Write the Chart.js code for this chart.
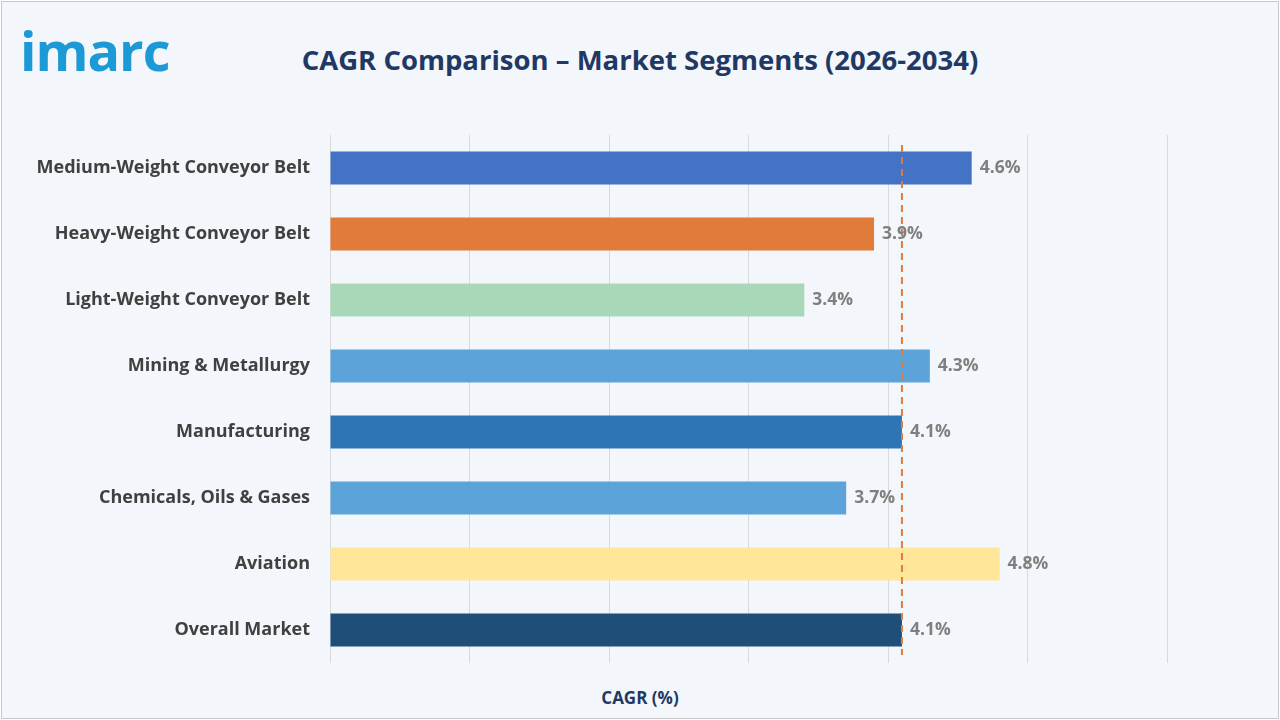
<!DOCTYPE html>
<html><head><meta charset="utf-8">
<script src="https://cdn.jsdelivr.net/npm/chart.js@4"></script>
<style>
html,body{margin:0;padding:0;background:#fff;}
#wrap{position:absolute;left:1px;top:1px;width:1276px;height:716px;border:1px solid #c8c8c8;background:#f3f6fa;}
#logo{position:absolute;left:20px;top:20px;font-family:"Open Sans",sans-serif;font-weight:700;font-size:54px;color:#1c9ad6;letter-spacing:-1px;line-height:60px;}
#title{position:absolute;left:0;width:1280px;top:41px;text-align:center;font-family:"Open Sans",sans-serif;font-weight:700;font-size:27.5px;color:#1f3864;}
#xt{position:absolute;left:0;width:1280px;top:686px;text-align:center;font-family:"Open Sans",sans-serif;font-weight:700;font-size:17px;color:#1f3864;}
canvas{position:absolute;left:0;top:0;}
</style></head><body>
<div id="wrap"></div>
<div id="logo">imarc</div>
<div id="title">CAGR Comparison – Market Segments (2026-2034)</div>
<div id="xt">CAGR (%)</div>
<canvas id="c" width="1280" height="720"></canvas>
<script>
const categories=["Medium-Weight Conveyor Belt","Heavy-Weight Conveyor Belt","Light-Weight Conveyor Belt","Mining & Metallurgy","Manufacturing","Chemicals, Oils & Gases","Aviation","Overall Market"];
const values=[4.6,3.9,3.4,4.3,4.1,3.7,4.8,4.1];
const colors=["#4472C4","#E07B39","#A9D8B8","#5BA3D9","#2E75B6","#5BA3D9","#FFE699","#1F4E79"];
const refValue=4.1;
const labelsPlugin={id:'lbl',afterDatasetsDraw(ch){
 const ctx=ch.ctx,meta=ch.getDatasetMeta(0),x=ch.scales.x,a=ch.chartArea;
 ctx.save();
 ctx.strokeStyle="#E07B39";ctx.lineWidth=2;ctx.setLineDash([7,5]);
 const px=x.getPixelForValue(refValue);
 ctx.beginPath();ctx.moveTo(px,a.top+10);ctx.lineTo(px,a.bottom-8);ctx.stroke();
 ctx.setLineDash([]);
 ctx.font="bold 17.5px 'Open Sans',sans-serif";ctx.fillStyle="#7f7f7f";ctx.textBaseline="middle";
 meta.data.forEach((b,i)=>ctx.fillText(values[i].toFixed(1)+"%",b.x+8,b.y));
 ctx.restore();}};
new Chart(document.getElementById('c'),{type:'bar',
 data:{labels:categories,datasets:[{data:values,backgroundColor:colors,barPercentage:0.5,categoryPercentage:1}]},
 options:{indexAxis:'y',responsive:false,animation:false,
  layout:{padding:{left:20,right:113,top:135,bottom:57}},
  plugins:{legend:{display:false},tooltip:{enabled:false}},
  scales:{x:{min:0,max:6,ticks:{display:false,stepSize:1},grid:{color:"#d9d9d9",drawTicks:false},border:{display:false}},
   y:{ticks:{color:"#404040",font:{family:"'Open Sans',sans-serif",weight:'bold',size:18},padding:12},grid:{display:false},border:{display:false},afterFit(s){s.width=310;}}}},
 plugins:[labelsPlugin]});
</script></body></html>
